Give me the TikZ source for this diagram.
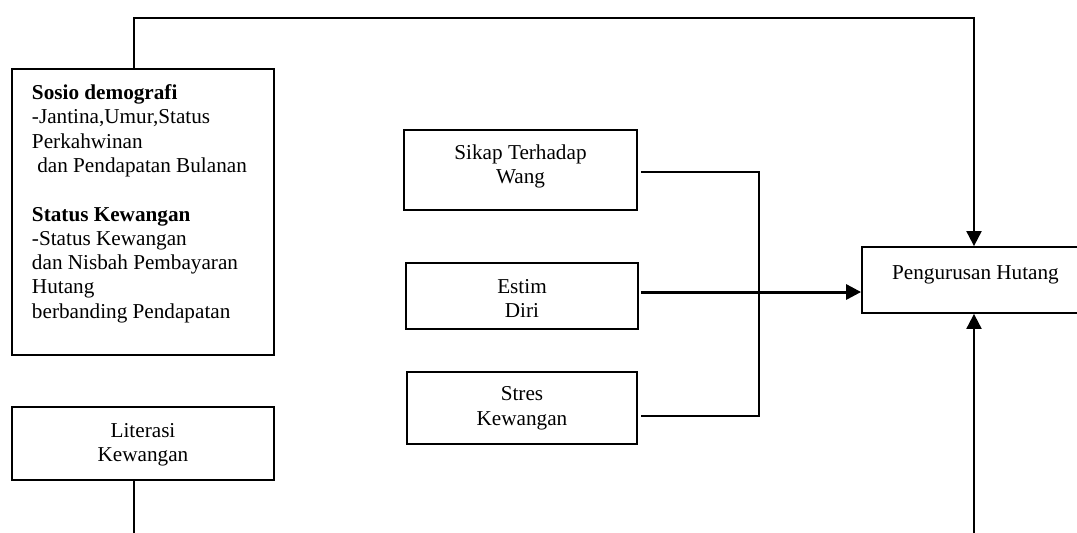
\documentclass[tikz,border=0pt]{standalone}
\usepackage{fontspec}
\setmainfont{Liberation Serif}
\usetikzlibrary{arrows.meta}
\newcommand{\boxtxt}[2]{\raisebox{#1}[0pt][0pt]{\begin{tabular}{@{}c@{}}#2\end{tabular}}}
\newcommand{\boxtxtl}[3]{\makebox[#2][l]{\raisebox{#1}[0pt][0pt]{\begin{tabular}{@{}l@{}}#3\end{tabular}}}}
\begin{document}
\begin{tikzpicture}[x=0.5pt,y=-0.5pt,
  every node/.style={font=\fontsize{10.6pt}{12.15pt}\selectfont},
  box/.style={draw,line width=0.9pt,inner sep=0pt},
  conn/.style={line width=1pt},
  thick conn/.style={line width=1.5pt},
  arr/.style={-{Triangle[length=7.5pt,width=7.5pt]}}]
\useasboundingbox (0,0) rectangle (1077,532);
\clip (0,0) rectangle (1077,532);

\node[box,minimum width=131pt,minimum height=143pt] (demo) at (143,212)
  {\boxtxtl{1.25pt}{111pt}{\textbf{Sosio demografi}\\-Jantina,Umur,Status\\Perkahwinan\\\ dan Pendapatan Bulanan\\ \\\textbf{Status Kewangan}\\-Status Kewangan\\dan Nisbah Pembayaran\\Hutang\\berbanding Pendapatan}};
\node[box,minimum width=131pt,minimum height=36.5pt] (lit) at (143,443.5)
  {\boxtxt{-3.25pt}{Literasi\\Kewangan}};
\node[box,minimum width=116.5pt,minimum height=40pt] (sikap) at (520.5,170)
  {\boxtxt{-1pt}{Sikap Terhadap\\Wang}};
\node[box,minimum width=116pt,minimum height=33pt] (estim) at (522,296)
  {\boxtxt{-5pt}{Estim\\Diri}};
\node[box,minimum width=115pt,minimum height=36pt] (stres) at (522,408)
  {\boxtxt{-2.75pt}{Stres\\Kewangan}};
\node[box,minimum width=113.5pt,minimum height=33pt] (peng) at (975.5,280)
  {\boxtxt{0pt}{Pengurusan Hutang}};

\coordinate (tl) at (134,17.5);
\coordinate (tr) at (974,17.5);
\coordinate (j) at (759,292);
\coordinate (bl) at (134,533);
\coordinate (br) at (974,533);

\draw[conn,arr] (demo.north -| tl) -- (tl) -- (tr) -- (peng.north -| tr);
\draw[conn] ([xshift=1.5pt,yshift=-1pt]sikap.east) -| (j) |- ([xshift=1.5pt,yshift=-4pt]stres.east);
\draw[thick conn,arr] ([xshift=1pt,yshift=2pt]estim.east) -- (peng.west |- j);
\draw[conn] (lit.south -| tl) -- (bl);
\draw[conn,arr] (br) -- (peng.south -| tr);
\end{tikzpicture}
\end{document}
